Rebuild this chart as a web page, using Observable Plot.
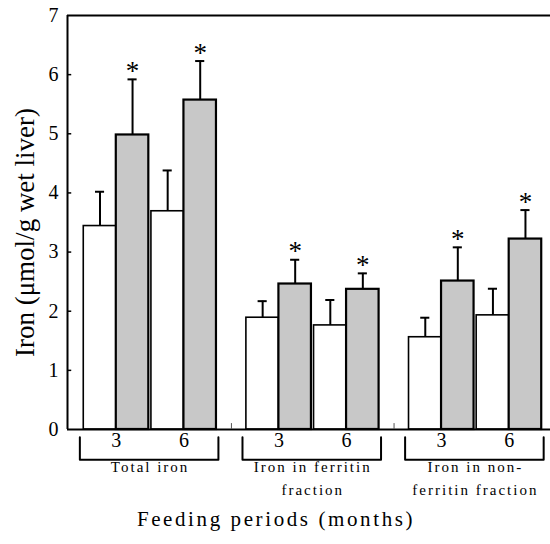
<!DOCTYPE html>
<html>
<head>
<meta charset="utf-8">
<script src="https://cdn.jsdelivr.net/npm/d3@7"></script>
<script src="https://cdn.jsdelivr.net/npm/@observablehq/plot@0.6"></script>
<style>
  html, body { margin: 0; padding: 0; background: white; }
  #chart { width: 550px; height: 544px; }
</style>
</head>
<body>
<div id="chart"></div>
<script>
// ---- data ----
const groups = ["Total iron", "Iron in ferritin fraction", "Iron in non-ferritin fraction"];
const labelLine1 = ["Total iron", "Iron in ferritin", "Iron in non-"];
const labelLine2 = ["", "fraction", "ferritin fraction"];
const periods = ["3", "6"];
// order: Total-3, Total-6, Ferritin-3, Ferritin-6, NonFerritin-3, NonFerritin-6
const controlMean  = [3.44, 3.69, 1.89, 1.76, 1.56, 1.93];
const controlUpper = [4.02, 4.38, 2.17, 2.19, 1.89, 2.38];
const treatedMean  = [4.98, 5.57, 2.46, 2.37, 2.51, 3.22];
const treatedUpper = [5.92, 6.23, 2.87, 2.64, 3.08, 3.71];
const treatedSignificant = [true, true, true, true, true, true];
const yTicks = [0, 1, 2, 3, 4, 5, 6, 7];
const yTitle = "Iron (\u03bcmol/g wet liver)";
const xTitle = "Feeding periods (months)";

// ---- layout (in bar-width units) ----
const OFFSET = 0.5, GROUP_STRIDE = 5, PAIR_STRIDE = 2.08;

const rows = [];
groups.forEach((g, gi) => periods.forEach((p, pi) => {
  const i = gi * 2 + pi;
  [["control", controlMean[i], controlUpper[i], false],
   ["treated", treatedMean[i], treatedUpper[i], treatedSignificant[i]]].forEach(([diet, m, u, sig], di) => {
    const x1 = OFFSET + gi * GROUP_STRIDE + pi * PAIR_STRIDE + di;
    rows.push({group: g, period: p, diet, mean: m, upper: u, sig, x1, x2: x1 + 1, xc: x1 + 0.5});
  });
}));

const periodRows = [];
groups.forEach((g, gi) => periods.forEach((p, pi) => {
  periodRows.push({label: p, x: OFFSET + gi * GROUP_STRIDE + pi * PAIR_STRIDE + 1});
}));

const groupRows = groups.map((g, gi) => {
  const start = OFFSET + gi * GROUP_STRIDE;
  const end = start + PAIR_STRIDE + 2;
  return {group: g, start, end, center: (start + end) / 2, l1: labelLine1[gi], l2: labelLine2[gi]};
});

const separators = groupRows.slice(1).map((d, i) => (groupRows[i].end + d.start) / 2);

const bracketTop = -0.13, bracketBottom = -0.51;
const bracketPts = [];
groupRows.forEach(d => {
  const a = d.start - 0.12, b = d.end + 0.06;
  bracketPts.push({group: d.group, x: a, y: bracketTop});
  bracketPts.push({group: d.group, x: a, y: bracketBottom});
  bracketPts.push({group: d.group, x: b, y: bracketBottom});
  bracketPts.push({group: d.group, x: b, y: bracketTop});
});

const serif = "'Liberation Serif', 'Times New Roman', Times, serif";

const chart = Plot.plot({
  width: 550,
  height: 544,
  marginTop: 15,
  marginBottom: 115,
  marginLeft: 67,
  marginRight: 0,
  style: {fontFamily: serif, fontSize: "20px", color: "black", background: "white", overflow: "visible"},
  x: {domain: [0, 14.85], axis: null},
  y: {domain: [0, 7], ticks: yTicks, tickSize: 0, tickPadding: 9, label: null, tickFormat: d => String(d)},
  marks: [
    Plot.rectY(rows.filter(d => d.diet === "control"), {x1: "x1", x2: "x2", y1: 0, y2: "mean", fill: "white", stroke: "black", strokeWidth: 1.6}),
    Plot.rectY(rows.filter(d => d.diet === "treated"), {x1: "x1", x2: "x2", y1: 0, y2: "mean", fill: "#c8c8c8", stroke: "black", strokeWidth: 2.2}),
    Plot.ruleX(rows, {x: "xc", y1: "mean", y2: "upper", strokeWidth: 2}),
    Plot.ruleY(rows, {y: "upper", x1: d => d.xc - 0.14, x2: d => d.xc + 0.14, strokeWidth: 2}),
    Plot.text(rows.filter(d => d.sig), {x: "xc", y: "upper", text: () => "*", dy: -8, fontSize: 27}),
    Plot.ruleY([7], {strokeWidth: 2}),
    Plot.ruleY([0], {strokeWidth: 2}),
    Plot.ruleX([0], {strokeWidth: 2}),
    Plot.ruleY(yTicks.slice(1, -1), {y: d => d, x1: 0, x2: 0.13, strokeWidth: 1.5}),
    Plot.ruleX(separators, {x: d => d, y1: 0, y2: 0.1, strokeWidth: 1, stroke: "#555"}),
    Plot.text(periodRows, {x: "x", y: 0, text: "label", dy: 11, fontSize: 20}),
    Plot.line(bracketPts, {x: "x", y: "y", z: "group", strokeWidth: 2}),
    Plot.text(groupRows, {x: "center", y: 0, text: "l1", dy: 38, fontSize: 15}),
    Plot.text(groupRows, {x: "center", y: 0, text: "l2", dy: 61, fontSize: 15}),
    Plot.text([yTitle], {text: d => d, frameAnchor: "left", textAnchor: "middle", rotate: -90, dx: -42, dy: 10, fontSize: 27}),
    Plot.text([xTitle], {text: d => d, frameAnchor: "bottom", textAnchor: "middle", dx: -33, dy: 96, fontSize: 21})
  ]
});

const spaced = new Set([...labelLine1, ...labelLine2, xTitle]);
chart.querySelectorAll("text").forEach(t => {
  if (spaced.has(t.textContent)) {
    t.style.letterSpacing = t.textContent === xTitle ? "2.6px" : "2px";
  }
});

document.getElementById("chart").appendChild(chart);
</script>
</body>
</html>
